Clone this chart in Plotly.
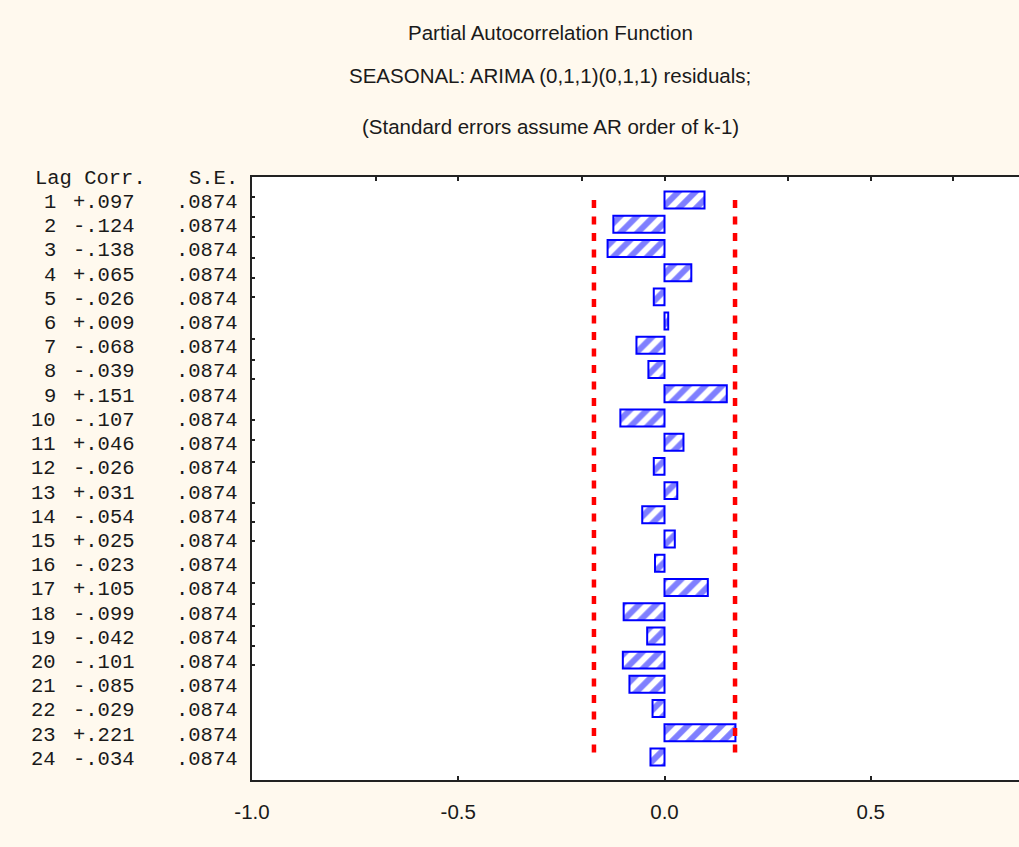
import plotly.graph_objects as go

# ---- data ----
lags = list(range(1, 25))
# printed partial autocorrelations (table on the left)
corr = [0.097, -0.124, -0.138, 0.065, -0.026, 0.009, -0.068, -0.039, 0.151, -0.107,
        0.046, -0.026, 0.031, -0.054, 0.025, -0.023, 0.105, -0.099, -0.042, -0.101,
        -0.085, -0.029, 0.221, -0.034]
# bar lengths as drawn in the picture (lag 23 bar stops at the confidence line)
bar_len = [0.097, -0.124, -0.138, 0.065, -0.026, 0.009, -0.068, -0.039, 0.151, -0.107,
           0.046, -0.026, 0.031, -0.054, 0.025, -0.023, 0.105, -0.099, -0.042, -0.101,
           -0.085, -0.029, 0.172, -0.034]
se = [0.0874] * 24
conf_limit = 0.171
x_tick_vals = [-1.0, -0.5, 0.0, 0.5]
x_tick_text = ["-1.0", "-0.5", "0.0", "0.5"]
titles = ["Partial Autocorrelation Function",
          "SEASONAL: ARIMA (0,1,1)(0,1,1) residuals;",
          "(Standard errors assume AR order of k-1)"]

W, H = 1019, 847
ML, MR, MT, MB = 252, 0, 177, 67
PW = W - ML - MR
PH = H - MT - MB

BG = "#FFF9EE"
BLUE = "#0000FF"
RED = "#FF0000"
TXT = "#1a1a1a"
SANS = "Liberation Sans, Arial, sans-serif"
MONO = "Liberation Mono, Courier New, monospace"

fig = go.Figure()

fig.add_trace(go.Bar(
    x=bar_len, y=lags, orientation="h", width=0.7,
    marker=dict(color="white",
                line=dict(color=BLUE, width=2),
                pattern=dict(shape="/", fgcolor=BLUE, bgcolor="white",
                             size=12, solidity=0.5)),
    showlegend=False, hoverinfo="x+y",
))

for s in (-1, 1):
    fig.add_trace(go.Scatter(
        x=[s * conf_limit, s * conf_limit], y=[lags[0], lags[-1]],
        mode="lines", line=dict(color=RED, width=4.5, dash="8px,8.5px"),
        showlegend=False, hoverinfo="skip",
    ))

# invisible trace so the top axis (ticks only) is drawn
fig.add_trace(go.Scatter(x=[0], y=[1], xaxis="x2", mode="markers",
                         marker=dict(opacity=0), showlegend=False, hoverinfo="skip"))


def px2paper_x(px):
    return (px - ML) / PW


def px2paper_y(py):
    return (H - MB - py) / PH


mono_font = dict(family=MONO, size=20.5, color=TXT)
ann = []
# table header
ann.append(dict(text="Lag Corr.", x=px2paper_x(33), y=0.1, xref="paper", yref="y",
                xanchor="left", yanchor="middle", showarrow=False, font=mono_font))
ann.append(dict(text="S.E.", x=px2paper_x(240), y=0.1, xref="paper", yref="y",
                xanchor="right", yanchor="middle", showarrow=False, font=mono_font))
for lg, c, s in zip(lags, corr, se):
    cs = ("+" if c >= 0 else "-") + f"{abs(c):.3f}"[1:]
    ss = f"{s:.4f}"[1:]
    for txt, pxr in ((str(lg), 58), (cs, 137), (ss, 240)):
        ann.append(dict(text=txt, x=px2paper_x(pxr), y=lg + 0.1, xref="paper", yref="y",
                        xanchor="right", yanchor="middle", showarrow=False,
                        font=mono_font))

# titles
for t, py in zip(titles, (32, 75, 127)):
    ann.append(dict(text=t, x=px2paper_x(550), y=px2paper_y(py),
                    xref="paper", yref="paper", xanchor="center", yanchor="middle",
                    showarrow=False, font=dict(family=SANS, size=20.5, color=TXT)))

y_tick_vals = [0.86, 1.69, 2.52, 3.38, 4.22, 5.0, 6.74, 7.61, 8.4, 10.1, 10.9, 11.8,
               13.5, 14.3, 15.1, 16.8, 17.7, 18.6, 19.4, 20.2]

x_max = (W - 664.5) / 412.5

fig.update_layout(
    width=W, height=H,
    margin=dict(l=ML, r=MR, t=MT, b=MB, pad=0),
    paper_bgcolor=BG, plot_bgcolor="white",
    annotations=ann,
    xaxis=dict(range=[-1.0, x_max], tickvals=x_tick_vals, ticktext=x_tick_text,
               showgrid=False, zeroline=False, showline=True, mirror=True,
               linecolor="#222", linewidth=2, ticks="inside", ticklen=4,
               tickcolor="#222", tickwidth=2, ticklabelstandoff=12,
               tickfont=dict(family=SANS, size=20.5, color=TXT)),
    xaxis2=dict(range=[-1.0, x_max], overlaying="x", side="top",
                tickvals=[-0.7, -0.5, -0.2, 0.0, 0.3, 0.5, 0.7],
                showticklabels=False, ticks="inside", ticklen=4,
                tickcolor="#222", tickwidth=2, showgrid=False, zeroline=False,
                showline=False),
    yaxis=dict(range=[24.95, 0.05], tickvals=y_tick_vals, showticklabels=False,
               ticks="inside", ticklen=3, tickcolor="#222", tickwidth=2,
               showgrid=False, zeroline=False, showline=True, mirror=False,
               linecolor="#222", linewidth=2),
)

fig.write_html("out.html", config={"displayModeBar": False})

# remove the browser's default page margin so the figure starts at the corner
with open("out.html", "r", encoding="utf-8") as f:
    html = f.read()
html = html.replace("<head>", "<head><style>html,body{margin:0;padding:0;overflow:hidden;}</style>", 1)
with open("out.html", "w", encoding="utf-8") as f:
    f.write(html)
